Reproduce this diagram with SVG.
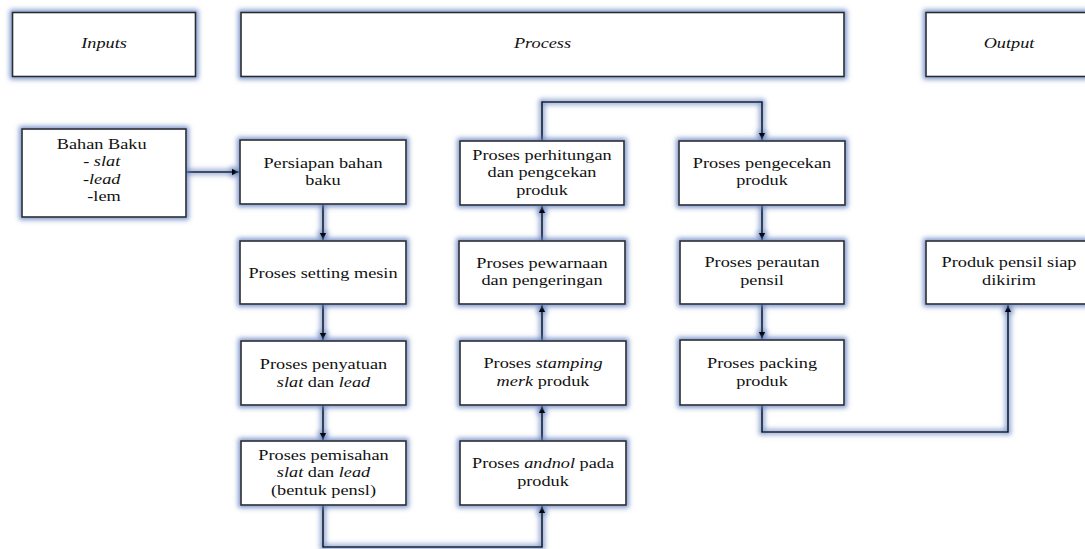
<svg xmlns="http://www.w3.org/2000/svg" width="1085" height="549" viewBox="0 0 1085 549">
<defs>
<filter id="glow" x="-20%" y="-20%" width="140%" height="140%">
<feMorphology in="SourceAlpha" operator="dilate" radius="1.6" result="d"/>
<feGaussianBlur in="d" stdDeviation="2.4" result="b"/>
<feFlood flood-color="#6482bf" flood-opacity="0.85"/>
<feComposite in2="b" operator="in" result="s"/>
<feMerge><feMergeNode in="s"/><feMergeNode in="SourceGraphic"/></feMerge>
</filter>
<marker id="arr" markerWidth="8" markerHeight="8" refX="7" refY="4" orient="auto" markerUnits="userSpaceOnUse">
<path d="M0,0.8 L7,4 L0,7.2 Z" fill="#000"/>
</marker>
<style>
.box{fill:#fff;stroke:#2a2a2a;stroke-width:1.6;filter:url(#glow)}
.t{font-family:"Liberation Serif","Times New Roman",serif;font-size:14.5px;fill:#111;text-anchor:middle}
.i{font-style:italic}
.c{fill:none;stroke:#000;stroke-width:1.6}
</style>
</defs>
<rect width="1085" height="549" fill="#fff"/>

<g id="connectors" filter="url(#glow)">
<path class="c" d="M186,172 H239" marker-end="url(#arr)"/>
<path class="c" d="M323,204 V240" marker-end="url(#arr)"/>
<path class="c" d="M323,304 V340" marker-end="url(#arr)"/>
<path class="c" d="M323,405 V440" marker-end="url(#arr)"/>
<path class="c" d="M323,505 V547 H542 V506" marker-end="url(#arr)"/>
<path class="c" d="M542,441 V406" marker-end="url(#arr)"/>
<path class="c" d="M542,341 V305" marker-end="url(#arr)"/>
<path class="c" d="M542,241 V206" marker-end="url(#arr)"/>
<path class="c" d="M542,141 V102 H762 V140" marker-end="url(#arr)"/>
<path class="c" d="M762,205 V240" marker-end="url(#arr)"/>
<path class="c" d="M762,304 V339" marker-end="url(#arr)"/>
<path class="c" d="M762,405 V432 H1008 V305" marker-end="url(#arr)"/>
</g>

<g id="inputs">
<rect class="box" x="12.5" y="12.5" width="183" height="64"/>
<text class="t i" transform="translate(104 0) scale(1.26 1)"><tspan x="0" y="48">Inputs</tspan></text>
</g>
<g id="process">
<rect class="box" x="241" y="12.5" width="603" height="64"/>
<text class="t i" transform="translate(542.5 0) scale(1.26 1)"><tspan x="0" y="48">Process</tspan></text>
</g>
<g id="output">
<rect class="box" x="926" y="12.5" width="166" height="64"/>
<text class="t i" transform="translate(1009 0) scale(1.26 1)"><tspan x="0" y="48">Output</tspan></text>
</g>

<g id="bahan-baku">
<rect class="box" x="22" y="129" width="164" height="88"/>
<text class="t" transform="translate(104 0) scale(1.26 1)">
<tspan x="0" y="149">Bahan Baku</tspan>
<tspan x="0" y="166.5">- <tspan class="i">slat</tspan></tspan>
<tspan x="0" y="184">-<tspan class="i">lead</tspan></tspan>
<tspan x="0" y="201.5">-lem</tspan>
</text>
</g>

<g id="persiapan">
<rect class="box" x="240" y="140" width="166" height="64"/>
<text class="t" transform="translate(323 0) scale(1.26 1)"><tspan x="0" y="168">Persiapan bahan</tspan><tspan x="0" y="185">baku</tspan></text>
</g>
<g id="setting">
<rect class="box" x="240" y="241" width="166" height="63"/>
<text class="t" transform="translate(323 0) scale(1.26 1)"><tspan x="0" y="278">Proses setting mesin</tspan></text>
</g>
<g id="penyatuan">
<rect class="box" x="241" y="341" width="165" height="64"/>
<text class="t" transform="translate(323.5 0) scale(1.26 1)"><tspan x="0" y="369">Proses penyatuan</tspan><tspan x="0" y="387"><tspan class="i">slat</tspan> dan <tspan class="i">lead</tspan></tspan></text>
</g>
<g id="pemisahan">
<rect class="box" x="241" y="441" width="165" height="64"/>
<text class="t" transform="translate(323.5 0) scale(1.26 1)"><tspan x="0" y="460">Proses pemisahan</tspan><tspan x="0" y="477.5"><tspan class="i">slat</tspan> dan <tspan class="i">lead</tspan></tspan><tspan x="0" y="495">(bentuk pensl)</tspan></text>
</g>

<g id="andnol">
<rect class="box" x="460" y="441" width="166" height="64"/>
<text class="t" transform="translate(543 0) scale(1.26 1)"><tspan x="0" y="468">Proses <tspan class="i">andnol</tspan> pada</tspan><tspan x="0" y="486">produk</tspan></text>
</g>
<g id="stamping">
<rect class="box" x="460" y="341" width="166" height="64"/>
<text class="t" transform="translate(543 0) scale(1.26 1)"><tspan x="0" y="368">Proses <tspan class="i">stamping</tspan></tspan><tspan x="0" y="386"><tspan class="i">merk</tspan> produk</tspan></text>
</g>
<g id="pewarnaan">
<rect class="box" x="459" y="241" width="166" height="63"/>
<text class="t" transform="translate(542 0) scale(1.26 1)"><tspan x="0" y="268">Proses pewarnaan</tspan><tspan x="0" y="285">dan pengeringan</tspan></text>
</g>
<g id="perhitungan">
<rect class="box" x="460" y="141" width="164" height="64"/>
<text class="t" transform="translate(542 0) scale(1.26 1)"><tspan x="0" y="160">Proses perhitungan</tspan><tspan x="0" y="177.5">dan pengcekan</tspan><tspan x="0" y="195">produk</tspan></text>
</g>

<g id="pengecekan">
<rect class="box" x="679" y="141" width="166" height="64"/>
<text class="t" transform="translate(762 0) scale(1.26 1)"><tspan x="0" y="168">Proses pengecekan</tspan><tspan x="0" y="185">produk</tspan></text>
</g>
<g id="perautan">
<rect class="box" x="680" y="241" width="164" height="63"/>
<text class="t" transform="translate(762 0) scale(1.26 1)"><tspan x="0" y="267">Proses perautan</tspan><tspan x="0" y="285">pensil</tspan></text>
</g>
<g id="packing">
<rect class="box" x="680" y="340" width="164" height="65"/>
<text class="t" transform="translate(762 0) scale(1.26 1)"><tspan x="0" y="368">Proses packing</tspan><tspan x="0" y="386">produk</tspan></text>
</g>
<g id="produk-siap">
<rect class="box" x="926" y="241" width="166" height="63"/>
<text class="t" transform="translate(1009 0) scale(1.26 1)"><tspan x="0" y="267">Produk pensil siap</tspan><tspan x="0" y="285">dikirim</tspan></text>
</g>
</svg>
